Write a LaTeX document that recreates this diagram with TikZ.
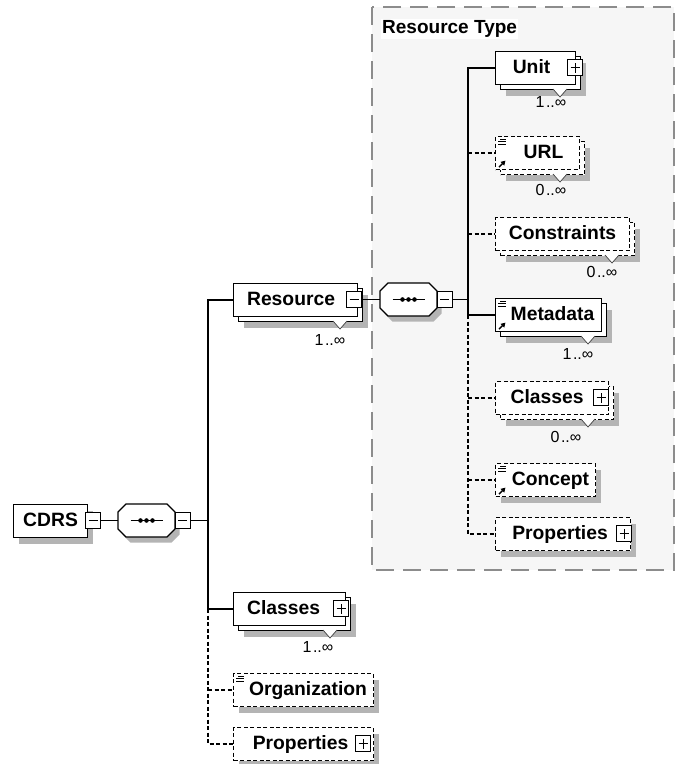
\documentclass[tikz,border=0pt]{standalone}
\usepackage{fontspec}
\setmainfont{Liberation Sans}
\usetikzlibrary{arrows.meta,calc}

\definecolor{shadowgray}{HTML}{B4B4B4}
\definecolor{framegray}{HTML}{8C8C8C}
\definecolor{framefill}{HTML}{F6F6F6}

\tikzset{
  wire/.style={line width=1.3pt, black},
  optwire/.style={wire, dash pattern=on 4pt off 2.5pt},
  elembox/.style={draw, fill=white, line width=1.1pt, anchor=north west,
    minimum height=33pt, inner sep=0pt, text height=13.8pt, text depth=3.6pt,
    font=\fontsize{19.3}{22}\selectfont\bfseries},
  optbox/.style={dash pattern=on 4pt off 2.5pt},
  shadowfill/.style={fill=shadowgray},
  expander/.style={draw, fill=white, line width=1pt, minimum width=15pt,
    minimum height=16pt, inner sep=0pt},
  expminus/.style={expander, path picture={
    \draw[line width=0.9pt] ([xshift=-4.5pt]path picture bounding box.center)
      -- ([xshift=4.5pt]path picture bounding box.center);}},
  expplus/.style={expander, path picture={
    \draw[line width=0.9pt] ([xshift=-4.5pt]path picture bounding box.center)
      -- ([xshift=4.5pt]path picture bounding box.center);
    \draw[line width=0.9pt] ([yshift=-5pt]path picture bounding box.center)
      -- ([yshift=5pt]path picture bounding box.center);}},
  seqanchor/.style={minimum width=57pt, minimum height=33pt, inner sep=0pt},
  seqline/.style={draw, fill=white, line width=1.1pt},
  multlabel/.style={font=\fontsize{16}{17}\selectfont, inner sep=0pt},
  multmark/.style={draw=black!75, fill=white, line width=0.7pt},
  groupframe/.style={draw=framegray, fill=framefill, line width=1.3pt,
    dash pattern=on 18pt off 9pt},
  grouptitle/.style={fill=white, anchor=west, inner sep=1pt,
    font=\fontsize{19}{22}\selectfont\bfseries},
}

% element box: name, left, top, width, stack offset (0 = single), box options, label
\newcommand\xelem[7]{%
  \fill[shadowfill] (#2+#5+6,#3+#5+7) rectangle ++(#4,33);
  \ifnum#5>0 \node[elembox,#6,minimum width=#4] (#1-back) at (#2+#5,#3+#5) {};\fi
  \node[elembox,#6,minimum width=#4] (#1) at (#2,#3) {#7};
}
% occurrence mark below a stacked box: centre x, bottom y
\newcommand\occmark[2]{%
  \path[multmark] (#1-7,#2) -- (#1,#2+8) -- (#1+7,#2);
}
% occurrence range text
\newcommand\range[2]{#1\kern1.5pt..#2}
% sequence compositor outline: centre x, centre y, style
\newcommand\octagon[3]{%
  \path[#3] (#1-20.5,#2-16.5) -- (#1+20.5,#2-16.5) -- (#1+28.5,#2-8.5)
    -- (#1+28.5,#2+8.5) -- (#1+20.5,#2+16.5) -- (#1-20.5,#2+16.5)
    -- (#1-28.5,#2+8.5) -- (#1-28.5,#2-8.5) -- cycle;
}
% annotation icon (top left) and reference arrow (bottom left)
\newcommand\docicon[1]{%
  \draw[line width=0.8pt] ($(#1.north west)+(5,3)$) -- ++(6,0);
  \draw[line width=0.8pt] ($(#1.north west)+(3,5.7)$) -- ++(8,0);
  \draw[line width=0.8pt] ($(#1.north west)+(3,8.4)$) -- ++(8,0);
}
\newcommand\reficon[1]{%
  \draw[line width=1.4pt, -{Triangle[length=4.5pt,width=5pt]}]
    ($(#1.south west)+(4,-3)$) -- ++(6.5,-6.5);
}
\newcommand\seqdots[1]{%
  \draw[line width=1.2pt] ($(#1.center)+(-16,0)$) -- ($(#1.center)+(16,0)$);
  \fill ($(#1.center)+(-6,0)$) circle (2.3);
  \fill ($(#1.center)$) circle (2.3);
  \fill ($(#1.center)+(6,0)$) circle (2.3);
}

\begin{document}
\begin{tikzpicture}[x=1pt,y=-1pt]
\useasboundingbox (0,0) rectangle (681,764);
\fill[white] (0,0) rectangle (681,764);

% complex type group
\draw[groupframe] (372,7) rectangle (674,570);
\node[grouptitle] (rtype) at (381,29) {Resource Type};

% root element and its sequence
\xelem{cdrs}{13}{504}{74}{0}{}{CDRS}
\node[expminus] (cdrs-x) at (93,520.5) {};
\octagon{151}{526}{shadowfill}
\octagon{146.5}{520.5}{seqline}
\node[seqanchor] (seq1) at (146.5,520.5) {};
\seqdots{seq1}
\node[expminus] (seq1-x) at (182.5,520.5) {};
\coordinate (j1) at (208,520.5);

% children of CDRS
\xelem{resource}{233}{283}{124}{5}{}{Resource\hspace*{9pt}}
\occmark{340}{321}
\node[expminus] (resource-x) at (354,299.5) {};
\node[multlabel] (resource-m) at (330,340) {\range{1}{∞}};

\xelem{classesL}{233}{592}{112}{5}{}{Classes\hspace*{12pt}}
\occmark{330}{630}
\node[expplus] (classesL-x) at (341,608.5) {};
\node[multlabel] (classesL-m) at (318,647) {\range{1}{∞}};

\xelem{org}{233}{673}{140}{0}{optbox}{\hspace*{9pt}Organization}
\docicon{org}

\xelem{propsL}{233}{727}{140}{0}{optbox}{Properties\hspace*{6pt}}
\node[expplus] (propsL-x) at (363,743.5) {};

% sequence of Resource Type
\octagon{413}{305}{shadowfill}
\octagon{408.5}{299.5}{seqline}
\node[seqanchor] (seq2) at (408.5,299.5) {};
\seqdots{seq2}
\node[expminus] (seq2-x) at (444.5,299.5) {};
\coordinate (j2) at (468,299.5);

\xelem{unit}{495}{51}{80}{5}{}{Unit\hspace*{8pt}}
\occmark{560}{89}
\node[expplus] (unit-x) at (575,67.5) {};
\node[multlabel] (unit-m) at (551,102) {\range{1}{∞}};

\xelem{url}{495}{136}{84}{5}{optbox}{\hspace*{12pt}URL}
\occmark{560}{174}
\docicon{url}\reficon{url}
\node[multlabel] (url-m) at (551,190) {\range{0}{∞}};

\xelem{constr}{495}{217}{134}{5}{optbox}{Constraints}
\occmark{612}{255}
\node[multlabel] (constr-m) at (602,272) {\range{0}{∞}};

\xelem{meta}{495}{298}{106}{5}{}{\hspace*{8pt}Metadata}
\occmark{588}{336}
\docicon{meta}\reficon{meta}
\node[multlabel] (meta-m) at (578,354) {\range{1}{∞}};

\xelem{classesR}{495}{381}{113}{5}{optbox}{Classes\hspace*{10pt}}
\occmark{588}{419}
\node[expplus] (classesR-x) at (601,397.5) {};
\node[multlabel] (classesR-m) at (566,437) {\range{0}{∞}};

\xelem{concept}{495}{463}{100}{0}{optbox}{\hspace*{10pt}Concept}
\docicon{concept}\reficon{concept}

\xelem{propsR}{495}{517}{135}{0}{optbox}{Properties\hspace*{6pt}}
\node[expplus] (propsR-x) at (624,533.5) {};

% connectors of CDRS
\draw[wire] (cdrs-x.east) -- (seq1.west);
\draw[wire] (seq1-x.east) -- (j1);
\draw[wire] (resource.west) -- (j1 |- resource.west) -- (j1 |- classesL.west) -- (classesL.west);
\draw[optwire] (j1 |- classesL.west) -- (j1 |- propsL.west) -- (propsL.west);
\draw[optwire] (j1 |- org.west) -- (org.west);

% connectors of Resource
\draw[wire] (resource-x.east) -- (seq2.west);
\draw[wire] (seq2-x.east) -- (j2);
\draw[wire] (unit.west) -- (j2 |- unit.west) -- (j2 |- meta.west) -- (meta.west);
\draw[optwire] (j2 |- meta.west) -- (j2 |- propsR.west) -- (propsR.west);
\draw[optwire] (j2 |- url.west) -- (url.west);
\draw[optwire] (j2 |- constr.west) -- (constr.west);
\draw[optwire] (j2 |- classesR.west) -- (classesR.west);
\draw[optwire] (j2 |- concept.west) -- (concept.west);
\end{tikzpicture}
\end{document}
